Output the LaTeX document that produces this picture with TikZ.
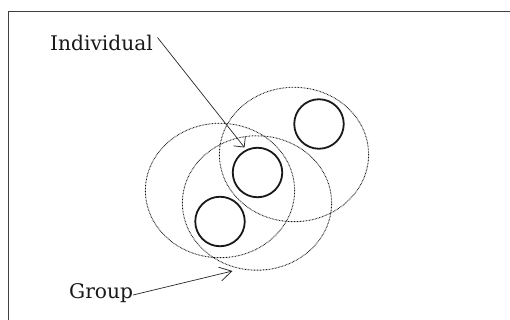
\documentclass[tikz,border=0pt]{standalone}
\usepackage{fontspec}
\setmainfont{DejaVu Serif}
\usetikzlibrary{arrows.meta,shapes.geometric}
\begin{document}
\begin{tikzpicture}[x=1pt,y=-1pt,
  grp/.style={draw=black!92, ellipse, line width=0.9pt, dash pattern=on 0.7pt off 0.8pt,
    minimum width=149.2pt, minimum height=134.4pt, inner sep=0pt},
  indiv/.style={draw=black!90, circle, line width=1.8pt, minimum size=49.5pt, inner sep=0pt},
  lbl/.style={inner sep=0pt, anchor=base west, text=black!90, font=\fontsize{20.2}{24}\selectfont},
  pointer/.style={draw=black!85, line width=0.7pt}]
\useasboundingbox (0,0) rectangle (510,320);
\clip (0,0) rectangle (510,320);
\draw[draw=black!75, line width=1.2pt] (8.5,11.5) rectangle (530,340);
% groups
\node[grp] (gA) at (220,190.5) {};
\node[grp] (gB) at (257,203) {};
\node[grp] (gC) at (294,154.5) {};
% individuals
\node[indiv] (i1) at (319,124) {};
\node[indiv] (i2) at (257.5,172.5) {};
\node[indiv] (i3) at (220,221.5) {};
% labels
\node[lbl] (ind) at (50,51) {Individual};
\node[lbl] (grp) at (69,298.3) {Group};
\coordinate (indstart) at (157.5,37.5);
\coordinate (indtip) at (244.5,147.5);
\coordinate (grpstart) at (133,295);
\coordinate (grptip) at (232.5,271);
\draw[pointer, -{Straight Barb[length=7.5pt,width=15pt,line width=0.75pt]}] (indstart) -- (indtip);
\draw[pointer, -{Straight Barb[length=12pt,width=14pt,line width=0.75pt]}] (grpstart) -- (grptip);
\end{tikzpicture}
\end{document}
